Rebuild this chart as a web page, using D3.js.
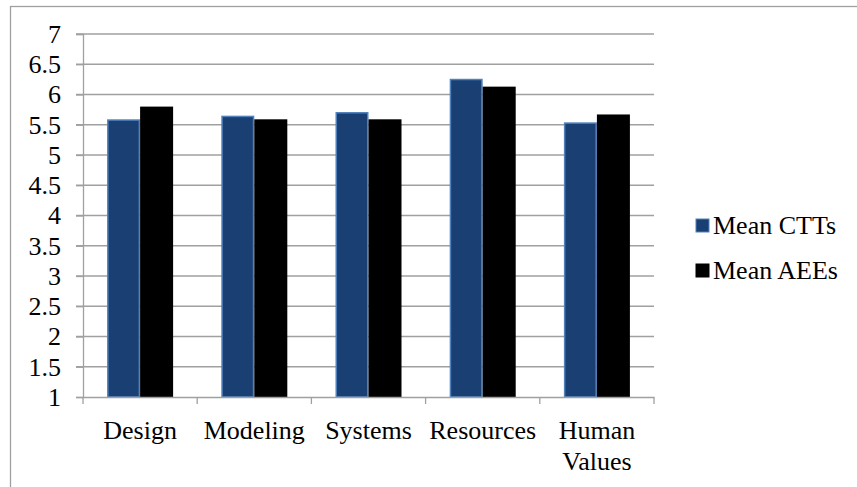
<!DOCTYPE html>
<html>
<head>
<meta charset="utf-8">
<script src="https://cdn.jsdelivr.net/npm/d3@7"></script>
<style>
html,body{margin:0;padding:0;background:#fff;}
svg{display:block;}
#chart text{font-family:"Liberation Serif" !important;}
</style>
</head>
<body>
<svg id="chart" width="857" height="487"></svg>
<script>
const categories = ["Design", "Modeling", "Systems", "Resources", "Human Values"];
const seriesNames = ["Mean CTTs", "Mean AEEs"];
const meanCTTs = [5.59, 5.65, 5.71, 6.26, 5.54];
const meanAEEs = [5.80, 5.59, 5.59, 6.13, 5.67];
const yTicks = [1, 1.5, 2, 2.5, 3, 3.5, 4, 4.5, 5, 5.5, 6, 6.5, 7];
const colors = ["#1a3f73", "#000000"];
const strokes = ["#4f81bd", "#000000"];

(function () {
const FONT = "Liberation Serif";
const svg = d3.select("#chart");
const mLeft = 83, mRight = 654, mTop = 34, mBottom = 397;

// outer border
svg.append("rect").attr("x", 10.5).attr("y", 6.5).attr("width", 900).attr("height", 600)
  .attr("fill", "none").attr("stroke", "#a0a0a0").attr("stroke-width", 1.3);

const x = d3.scaleBand().domain(categories).range([mLeft, mRight]).paddingInner(0).paddingOuter(0);
const xs = d3.scaleBand().domain(seriesNames).range([0, x.bandwidth()]).paddingInner(0).paddingOuter(0.73);
const y = d3.scaleLinear().domain([1, 7]).range([mBottom, mTop]);

// gridlines
svg.append("g").selectAll("line").data(yTicks.filter(d => d > 1)).join("line")
  .attr("x1", mLeft - 7).attr("x2", mRight).attr("y1", d => y(d)).attr("y2", d => y(d))
  .attr("stroke", "#a0a0a0").attr("stroke-width", 1.3);

// y axis
const yAxis = d3.axisLeft(y).tickValues(yTicks).tickSize(7).tickFormat(d3.format("~g"));
const gy = svg.append("g").attr("transform", `translate(${mLeft},0)`).call(yAxis);
gy.attr("font-family", FONT).attr("font-size", 26);
gy.select(".domain").attr("stroke", "#a0a0a0").attr("stroke-width", 1.3);
gy.selectAll(".tick line").attr("stroke", "#a0a0a0").attr("stroke-width", 1.3);
gy.selectAll(".tick text").attr("x", -22).attr("fill", "#000")
  .attr("font-family", FONT).attr("font-size", 26).style("font-family", FONT);

// bars
const series = [meanCTTs, meanAEEs];
series.forEach((vals, si) => {
  svg.append("g").selectAll("rect").data(vals).join("rect")
    .attr("x", (d, i) => x(categories[i]) + xs(seriesNames[si]) + (si === 0 ? 0.75 : 0))
    .attr("width", xs.bandwidth() - (si === 0 ? 1.5 : 0))
    .attr("y", d => y(d) + (si === 0 ? 0.75 : 0))
    .attr("height", d => y(1) - y(d) - (si === 0 ? 0.75 : 0))
    .attr("fill", colors[si])
    .attr("stroke", si === 0 ? strokes[si] : "none")
    .attr("stroke-width", 1.5);
});

// x axis
const xAxis = d3.axisBottom(x).tickSize(0).tickFormat("");
const gx = svg.append("g").attr("transform", `translate(0,${mBottom})`).call(xAxis);
gx.attr("font-family", FONT);
gx.select(".domain").attr("stroke", "#a0a0a0").attr("stroke-width", 1.3);
gx.selectAll(".tick").remove();
const boundaries = categories.map(c => x(c)).concat([x(categories[categories.length - 1]) + x.bandwidth()]);
gx.selectAll("line.b").data(boundaries).join("line").attr("class", "b")
  .attr("x1", d => d).attr("x2", d => d).attr("y1", 0).attr("y2", 7)
  .attr("stroke", "#a0a0a0").attr("stroke-width", 1.3);

// x labels (wrapped)
categories.forEach(c => {
  const words = c.split(" ");
  const t = svg.append("text").attr("text-anchor", "middle").attr("font-size", 26)
    .attr("font-family", FONT).style("font-family", FONT).attr("fill", "#000")
    .attr("x", x(c) + x.bandwidth() / 2).attr("y", 439);
  words.forEach((w, i) => {
    t.append("tspan").attr("x", x(c) + x.bandwidth() / 2).attr("dy", i === 0 ? 0 : 31).text(w);
  });
});

// legend
const lg = svg.append("g").attr("font-family", FONT);
seriesNames.forEach((n, i) => {
  const cy = 226 + i * 45;
  lg.append("rect").attr("x", 696).attr("y", cy - 7).attr("width", 13).attr("height", 13)
    .attr("fill", colors[i]).attr("stroke", strokes[i]).attr("stroke-width", 1);
  lg.append("text").attr("x", 713).attr("y", cy + 8).attr("font-size", 26)
    .attr("font-family", FONT).style("font-family", FONT).attr("fill", "#000").text(n);
});
})();
</script>
</body>
</html>
